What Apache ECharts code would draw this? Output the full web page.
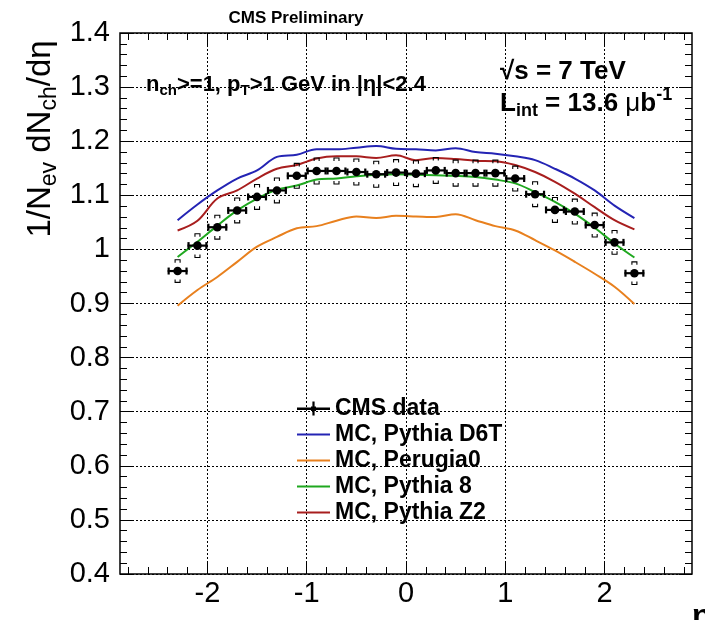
<!DOCTYPE html>
<html>
<head>
<meta charset="utf-8">
<script src="https://cdn.jsdelivr.net/npm/echarts@6/dist/echarts.min.js"></script>
<style>
html,body{margin:0;padding:0;background:#ffffff;}
#chart{width:705px;height:620px;}
</style>
</head>
<body>
<div id="chart"></div>
<script>
// ---------------- data ----------------
const etaBins = [-2.3,-2.1,-1.9,-1.7,-1.5,-1.3,-1.1,-0.9,-0.7,-0.5,-0.3,-0.1,
                 0.1,0.3,0.5,0.7,0.9,1.1,1.3,1.5,1.7,1.9,2.1,2.3];
const binHalfWidth = 0.1;
const cmsData = [0.960,1.007,1.041,1.072,1.097,1.109,1.136,1.145,1.145,1.143,1.139,1.142,
                 1.140,1.146,1.141,1.141,1.141,1.131,1.102,1.073,1.070,1.045,1.013,0.956];
const cmsSyst = [0.021,0.022,0.022,0.023,0.023,0.023,0.023,0.024,0.024,0.024,0.024,0.024,
                 0.024,0.024,0.024,0.024,0.024,0.023,0.023,0.023,0.023,0.022,0.022,0.021];
const pythiaD6T = [1.054,1.083,1.109,1.131,1.146,1.171,1.175,1.185,1.185,1.188,1.191,1.186,
                   1.185,1.183,1.187,1.180,1.177,1.172,1.165,1.149,1.131,1.109,1.081,1.058];
const perugia0 = [0.896,0.925,0.949,0.977,1.005,1.023,1.039,1.043,1.053,1.061,1.058,1.062,
                  1.061,1.060,1.065,1.054,1.043,1.035,1.017,0.998,0.977,0.955,0.931,0.899];
const pythia8 = [0.986,1.014,1.044,1.072,1.094,1.110,1.118,1.129,1.131,1.135,1.138,1.139,
                 1.138,1.137,1.136,1.134,1.129,1.122,1.106,1.088,1.066,1.040,1.011,0.985];
const pythiaZ2 = [1.035,1.053,1.094,1.109,1.131,1.149,1.156,1.168,1.172,1.172,1.169,1.174,
                  1.165,1.169,1.167,1.164,1.163,1.156,1.143,1.125,1.103,1.078,1.054,1.037];
const seriesNames = ['CMS data','MC, Pythia D6T','MC, Perugia0','MC, Pythia 8','MC, Pythia Z2'];
const xMajorTicks = [-2,-1,0,1,2];
const xMinorTicks = [-2.8,-2.6,-2.4,-2.2,-1.8,-1.6,-1.4,-1.2,-0.8,-0.6,-0.4,-0.2,
                     0.2,0.4,0.6,0.8,1.2,1.4,1.6,1.8,2.2,2.4,2.6,2.8];
const X_MIN = -2.88, X_MAX = 2.88;
const Y_MIN = 0.4, Y_MAX = 1.4, Y_STEP = 0.1;

// ---------------- styling ----------------
const FONT = '"Liberation Sans", Arial, Helvetica, sans-serif';
const C_D6T = '#2424b4', C_PER = '#e8801e', C_P8 = '#1fa81f', C_Z2 = '#a81e1e';
const tickLine = {color:'#000', width:1};
const gridLine = {color:'#000', width:1, type:[2,2]};

function richSet(size, bold) {
  const w = bold ? 'bold' : 'normal';
  const sub = Math.round(size * 0.7);
  const d = Math.round(size * 0.28);   // subscript drop
  const u = Math.round(size * 0.36);   // superscript rise
  const base = {fontFamily:FONT, color:'#000', fontWeight:w};
  return {
    m: Object.assign({}, base, {fontSize:size, lineHeight:size}),
    s: Object.assign({}, base, {fontSize:sub, lineHeight:sub, padding:[2*d,0,0,0]}),
    u: Object.assign({}, base, {fontSize:sub, lineHeight:sub, padding:[0,0,2*u,0]}),
    g: Object.assign({}, base, {fontSize:size, lineHeight:size, fontWeight:'normal'})
  };
}

function xAxisDef(pos, ticks, len, withLabels, withSplit) {
  return {
    type:'value', min:X_MIN, max:X_MAX, position:pos,
    axisLine:{show:false, onZero:false},
    axisTick:{show:true, inside:true, length:len, customValues:ticks, lineStyle:tickLine},
    axisLabel: withLabels ? {show:true, customValues:xMajorTicks, margin:5, fontSize:29,
                 fontFamily:FONT, color:'#000', formatter:(v)=>String(v)} : {show:false},
    splitLine: withSplit ? {show:true, lineStyle:gridLine} : {show:false}
  };
}

function yAxisDef(pos, withLabels) {
  return {
    type:'value', min:Y_MIN, max:Y_MAX, interval:Y_STEP, position:pos,
    axisLine:{show:false, onZero:false},
    axisTick:{show:true, inside:true, length:13, lineStyle:tickLine},
    minorTick:{show:true, splitNumber:5, length:7, lineStyle:tickLine},
    axisLabel: withLabels ? {show:true, margin:10, fontSize:29, fontFamily:FONT, color:'#000',
                 formatter:(v)=>String(+v.toFixed(1))} : {show:false},
    splitLine: withLabels ? {show:true, lineStyle:gridLine} : {show:false}
  };
}

function renderPoint(params, api) {
  const x = api.value(0), y = api.value(1), s = api.value(2);
  const l = api.coord([x - binHalfWidth, y]);
  const r = api.coord([x + binHalfWidth, y]);
  const c = api.coord([x, y]);
  const up = api.coord([x, y + s]);
  const dn = api.coord([x, y - s]);
  const cap = 3.5, bw = 2.5, bh = 3;
  const st = {stroke:'#000', lineWidth:2.2, fill:null};
  const bs = {stroke:'#000', lineWidth:1.1, fill:null};
  return {
    type:'group',
    children:[
      {type:'line', shape:{x1:l[0], y1:c[1], x2:r[0], y2:c[1]}, style:st},
      {type:'line', shape:{x1:l[0]+1, y1:c[1]-cap, x2:l[0]+1, y2:c[1]+cap}, style:st},
      {type:'line', shape:{x1:r[0]-1, y1:c[1]-cap, x2:r[0]-1, y2:c[1]+cap}, style:st},
      {type:'circle', shape:{cx:c[0], cy:c[1], r:4.3}, style:{fill:'#000'}},
      {type:'polyline', shape:{points:[[c[0]-bw, up[1]+bh],[c[0]-bw, up[1]],[c[0]+bw, up[1]],[c[0]+bw, up[1]+bh]]}, style:bs},
      {type:'polyline', shape:{points:[[c[0]-bw, dn[1]-bh],[c[0]-bw, dn[1]],[c[0]+bw, dn[1]],[c[0]+bw, dn[1]-bh]]}, style:bs}
    ]
  };
}

function mcSeries(name, values, color) {
  return {
    name:name, type:'line', xAxisIndex:0, yAxisIndex:0,
    data: etaBins.map((x,i)=>[x, values[i]]),
    showSymbol:false, symbol:'none', smooth:0.35,
    lineStyle:{color:color, width:2}, itemStyle:{color:color},
    z:3, silent:true
  };
}

const LINE_ICON = 'path://M0,0 L33,0 L33,2 L0,2 Z';
const DATA_ICON = 'path://M0,6 L33,6 L33,8.4 L0,8.4 Z M15.4,0 L17.6,0 L17.6,14 L15.4,14 Z M14,5 L19,5 L19,9.4 L14,9.4 Z';

const chart = echarts.init(document.getElementById('chart'), null, {renderer:'canvas'});

chart.setOption({
  animation:false,
  backgroundColor:'#ffffff',
  grid:{left:120, right:13, top:33, bottom:46, show:true, borderColor:'#000', borderWidth:1.5,
        backgroundColor:'transparent', containLabel:false, outerBoundsMode:'none'},
  xAxis:[
    xAxisDef('bottom', xMajorTicks, 13, true, true),
    xAxisDef('bottom', xMinorTicks, 7, false, false),
    xAxisDef('top', xMajorTicks, 13, false, false),
    xAxisDef('top', xMinorTicks, 7, false, false)
  ],
  yAxis:[ yAxisDef('left', true), yAxisDef('right', false) ],
  legend:{
    orient:'vertical', left:297, top:397, padding:0, itemWidth:33, itemHeight:14, itemGap:3,
    symbolKeepAspect:true,
    textStyle:{fontFamily:FONT, fontSize:23, fontWeight:'bold', color:'#000'},
    data:[
      {name:seriesNames[0], icon:DATA_ICON},
      {name:seriesNames[1], icon:LINE_ICON},
      {name:seriesNames[2], icon:LINE_ICON},
      {name:seriesNames[3], icon:LINE_ICON},
      {name:seriesNames[4], icon:LINE_ICON}
    ]
  },
  series:[
    mcSeries(seriesNames[1], pythiaD6T, C_D6T),
    mcSeries(seriesNames[2], perugia0, C_PER),
    mcSeries(seriesNames[3], pythia8, C_P8),
    mcSeries(seriesNames[4], pythiaZ2, C_Z2),
    {
      name:seriesNames[0], type:'custom', xAxisIndex:0, yAxisIndex:0,
      renderItem:renderPoint,
      data: etaBins.map((x,i)=>[x, cmsData[i], cmsSyst[i]]),
      itemStyle:{color:'#000'}, z:5, silent:true, clip:false
    }
  ],
  graphic:[
    {type:'text', x:296, y:18, style:{text:'CMS Preliminary', font:'bold 17px '+FONT, fill:'#000', align:'center', verticalAlign:'middle'}},
    {type:'text', x:146, y:85,
     style:{text:'{m|n}{s|ch}{m|>=1, p}{s|T}{m|>1 GeV in |η|<2.4}', rich:richSet(22, true), align:'left', verticalAlign:'middle'}},
    {type:'text', x:500, y:72,
     style:{text:'{m|√s = 7 TeV}', rich:richSet(26, true), align:'left', verticalAlign:'middle'}},
    {type:'text', x:500, y:104,
     style:{text:'{m|L}{s|int}{m| = 13.6 }{g|μ}{m|b}{u|-1}', rich:richSet(26, true), align:'left', verticalAlign:'middle'}},
    {type:'text', x:41, y:139, rotation:Math.PI/2,
     style:{text:'{m|1/N}{s|ev}{m| dN}{s|ch}{m|/dη}', rich:richSet(33, false), align:'center', verticalAlign:'middle'}},
    {type:'text', x:692, y:601, style:{text:'η', font:'bold 32px '+FONT, fill:'#000', align:'left', verticalAlign:'top'}}
  ]
});
</script>
</body>
</html>
